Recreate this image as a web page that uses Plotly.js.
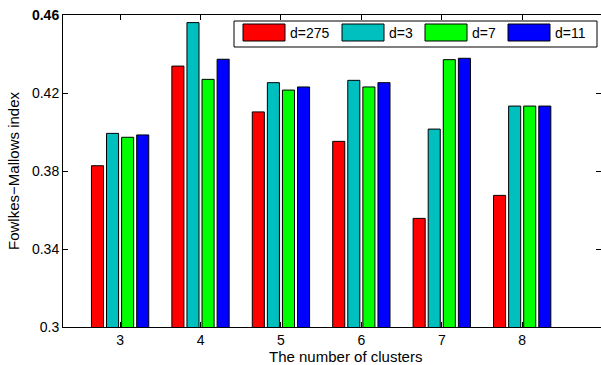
<!DOCTYPE html>
<html>
<head>
<meta charset="utf-8">
<script src="https://cdn.plot.ly/plotly-3.0.1.min.js"></script>
<style>html,body{margin:0;padding:0;background:#fff;}#chart{width:601px;height:365px;}</style>
</head>
<body>
<div id="chart"></div>
<script>
// Data
var clusters = [3, 4, 5, 6, 7, 8];
var seriesNames = ['d=275', 'd=3', 'd=7', 'd=11'];
var d275 = [0.3827, 0.4338, 0.4103, 0.3952, 0.3557, 0.3675];
var d3   = [0.3993, 0.4561, 0.4253, 0.4265, 0.4015, 0.4133];
var d7   = [0.3973, 0.4270, 0.4215, 0.4231, 0.4371, 0.4133];
var d11  = [0.3985, 0.4373, 0.4231, 0.4253, 0.4378, 0.4133];
var yTickVals = [0.3, 0.34, 0.38, 0.42, 0.46];
var yTickText = ['0.3', '0.34', '0.38', '0.42', '<b>0.46</b>'];
var xTitle = 'The number of clusters';
var yTitle = 'Fowlkes\u2212Mallows index';

var colors = ['#ff0000', '#00bfbf', '#00ff00', '#0000ff'];
var allSeries = [d275, d3, d7, d11];
var FONT = 'Liberation Sans, Arial, sans-serif';

var traces = allSeries.map(function (vals, i) {
  return {
    type: 'bar',
    x: clusters,
    y: vals,
    name: seriesNames[i],
    marker: {color: colors[i], line: {color: '#000', width: 1}},
    showlegend: false,
    hoverinfo: 'x+y+name'
  };
});
// invisible trace to carry the right-hand tick marks
traces.push({type: 'scatter', x: [clusters[0]], y: [yTickVals[0]], yaxis: 'y2',
  mode: 'markers', marker: {opacity: 0}, showlegend: false, hoverinfo: 'skip'});

// Plot-area geometry in pixels (for legend placement)
var L = 63, R = 601, T = 15, B = 327;
function px(x) { return (x - L) / (R - L); }
function py(y) { return (B - y) / (B - T); }

var shapes = [];
var annotations = [];
// Legend box
shapes.push({type: 'rect', xref: 'paper', yref: 'paper',
  x0: px(234), x1: px(597), y0: py(47), y1: py(21),
  line: {color: '#000', width: 1}, fillcolor: '#fff', layer: 'above'});
var swX = [243, 342, 425, 508];
for (var i = 0; i < seriesNames.length; i++) {
  shapes.push({type: 'rect', xref: 'paper', yref: 'paper',
    x0: px(swX[i]), x1: px(swX[i] + 42), y0: py(41), y1: py(24),
    line: {color: '#000', width: 1}, fillcolor: colors[i], layer: 'above'});
  annotations.push({xref: 'paper', yref: 'paper', x: px(swX[i] + 45), y: py(33),
    xanchor: 'left', yanchor: 'middle', text: seriesNames[i], showarrow: false,
    font: {family: FONT, size: 14, color: '#000'}});
}
// x-axis title
annotations.push({xref: 'paper', yref: 'paper', x: px(345), y: py(356),
  xanchor: 'center', yanchor: 'middle', text: xTitle, showarrow: false,
  font: {family: FONT, size: 15, color: '#000'}});

var layout = {
  width: 601, height: 365,
  margin: {l: 63, r: 0, t: 15, b: 38, pad: 0},
  paper_bgcolor: '#fff', plot_bgcolor: '#fff',
  barmode: 'group', bargap: 0.25, bargroupgap: 0.2,
  font: {family: FONT, size: 14, color: '#000'},
  xaxis: {
    range: [2.29, 8.98], tickvals: clusters, ticktext: clusters.map(String),
    ticks: 'inside', ticklen: 5, tickcolor: '#000', tickwidth: 1,
    showline: true, linecolor: '#000', linewidth: 1, mirror: 'ticks',
    showgrid: false, zeroline: false,
    tickfont: {family: FONT, size: 14, color: '#000'}
  },
  yaxis: {
    range: [0.3, 0.46], tickvals: yTickVals, ticktext: yTickText,
    ticks: 'inside', ticklen: 5, tickcolor: '#000', tickwidth: 1,
    showline: true, linecolor: '#000', linewidth: 1, mirror: false,
    showgrid: false, zeroline: false,
    tickfont: {family: FONT, size: 14, color: '#000'},
    title: {text: yTitle, font: {family: FONT, size: 15, color: '#000'}, standoff: 8}
  },
  yaxis2: {
    overlaying: 'y', side: 'right', range: [0.3, 0.46], tickvals: yTickVals,
    ticks: 'inside', ticklen: 5, tickcolor: '#000', tickwidth: 1,
    showticklabels: false, showline: false, showgrid: false, zeroline: false
  },
  shapes: shapes,
  annotations: annotations
};

Plotly.newPlot('chart', traces, layout, {displayModeBar: false, staticPlot: true});
</script>
</body>
</html>
